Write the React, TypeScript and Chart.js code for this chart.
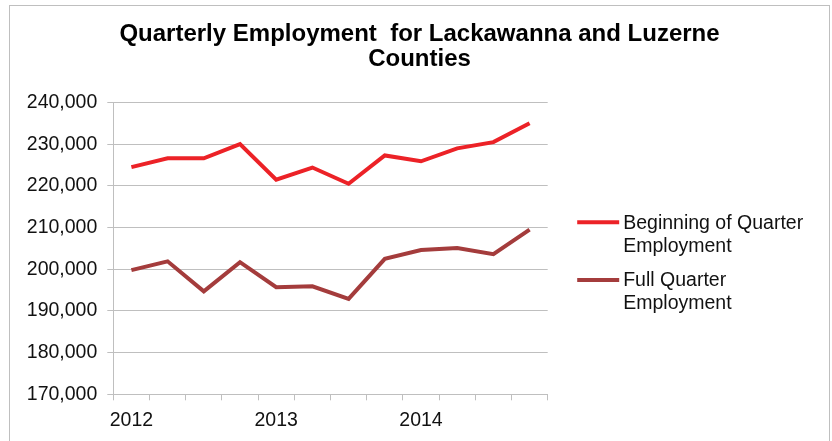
import React, { useEffect, useRef } from "react";
import { Chart, registerables } from "chart.js";

Chart.register(...registerables);

// ---- Data ----
const categories = [
  "2012 Q1", "2012 Q2", "2012 Q3", "2012 Q4",
  "2013 Q1", "2013 Q2", "2013 Q3", "2013 Q4",
  "2014 Q1", "2014 Q2", "2014 Q3", "2014 Q4",
];
const xTickLabels = ["2012", "", "", "", "2013", "", "", "", "2014", "", "", ""];
const beginningOfQuarter = [
  224500, 226600, 226600, 230000, 221500, 224400,
  220500, 227300, 225900, 229000, 230500, 235000,
];
const fullQuarter = [
  199800, 201900, 194700, 201700, 195700, 195900,
  192900, 202500, 204600, 205100, 203600, 209500,
];
const seriesNames = ["Beginning of Quarter Employment", "Full Quarter Employment"];
const legendLines = [
  ["Beginning of Quarter", "Employment"],
  ["Full Quarter", "Employment"],
];
const titleLines = ["Quarterly Employment  for Lackawanna and Luzerne", "Counties"];
const yMin = 170000;
const yMax = 240000;
const yStep = 10000;

// ---- Styles ----
const COLORS = ["#EC2227", "#A43C3C"];
const GRID = "#BFBFBF";
const FONT = "'Liberation Sans', Arial, sans-serif";
const TEXT = "#111111";

const sideLegend = {
  id: "sideLegend",
  afterDraw(chart: any) {
    const ctx = chart.ctx;
    const area = chart.chartArea;
    const x0 = area.right + 29.5;
    const lineLen = 42;
    const textX = x0 + 46;
    const ys = [area.top + 119.8, area.top + 177.4];
    ctx.save();
    ctx.font = `19.5px ${FONT}`;
    ctx.textBaseline = "middle";
    ctx.textAlign = "left";
    chart.data.datasets.forEach((ds: any, i: number) => {
      const y = ys[i];
      ctx.strokeStyle = ds.borderColor;
      ctx.lineWidth = 4;
      ctx.lineCap = "butt";
      ctx.beginPath();
      ctx.moveTo(x0, y);
      ctx.lineTo(x0 + lineLen, y);
      ctx.stroke();
      ctx.fillStyle = TEXT;
      legendLines[i].forEach((t, j) => {
        ctx.fillText(t, textX, y + 1 + j * 23);
      });
    });
    ctx.restore();
  },
};

const centeredTitle = {
  id: "centeredTitle",
  afterDraw(chart: any) {
    const ctx = chart.ctx;
    ctx.save();
    ctx.font = `bold 24px ${FONT}`;
    ctx.fillStyle = "#000";
    ctx.textAlign = "center";
    ctx.textBaseline = "middle";
    const cx = chart.width / 2;
    titleLines.forEach((t, i) => {
      ctx.fillText(t, cx, 28.5 + i * 25.3);
    });
    ctx.restore();
  },
};

export default function App() {
  const ref = useRef<HTMLCanvasElement | null>(null);

  useEffect(() => {
    if (!ref.current) return;
    const chart = new Chart(ref.current, {
      type: "line",
      data: {
        labels: categories,
        datasets: [
          {
            label: seriesNames[0],
            data: beginningOfQuarter,
            borderColor: COLORS[0],
            backgroundColor: COLORS[0],
            borderWidth: 4,
            pointRadius: 0,
            tension: 0,
          },
          {
            label: seriesNames[1],
            data: fullQuarter,
            borderColor: COLORS[1],
            backgroundColor: COLORS[1],
            borderWidth: 4,
            pointRadius: 0,
            tension: 0,
          },
        ],
      },
      options: {
        responsive: false,
        animation: false,
        devicePixelRatio: 1,
        layout: { padding: { left: 0, right: 281.3, top: 96.5, bottom: 0 } },
        plugins: {
          legend: { display: false },
          tooltip: { enabled: false },
          title: { display: false },
        },
        scales: {
          x: {
            type: "category",
            offset: true,
            afterFit: (s: any) => {
              s.height = 46.7;
            },
            grid: {
              offset: true,
              drawOnChartArea: false,
              drawTicks: true,
              tickLength: 6,
              color: GRID,
            },
            border: { color: GRID, width: 1 },
            ticks: {
              autoSkip: false,
              maxRotation: 0,
              minRotation: 0,
              padding: 9,
              color: TEXT,
              font: { family: FONT, size: 19.5 },
              callback: (_v: any, i: number) => xTickLabels[i],
            },
          },
          y: {
            min: yMin,
            max: yMax,
            afterFit: (s: any) => {
              s.width = 103.3;
            },
            grid: {
              color: GRID,
              tickLength: 6,
              drawTicks: true,
            },
            border: { color: GRID, width: 1 },
            ticks: {
              stepSize: yStep,
              padding: 10,
              color: TEXT,
              font: { family: FONT, size: 19.5 },
              callback: (v: any) => Number(v).toLocaleString("en-US"),
            },
          },
        },
      },
      plugins: [sideLegend, centeredTitle],
    });
    return () => chart.destroy();
  }, []);

  return (
    <div
      style={{
        position: "absolute",
        left: 9,
        top: 5,
        width: 819,
        height: 435,
        borderLeft: `1px solid ${GRID}`,
        borderTop: `1px solid ${GRID}`,
        borderRight: `1px solid ${GRID}`,
        background: "#fff",
      }}
    >
      <canvas ref={ref} width={819} height={435} style={{ display: "block" }} />
    </div>
  );
}
